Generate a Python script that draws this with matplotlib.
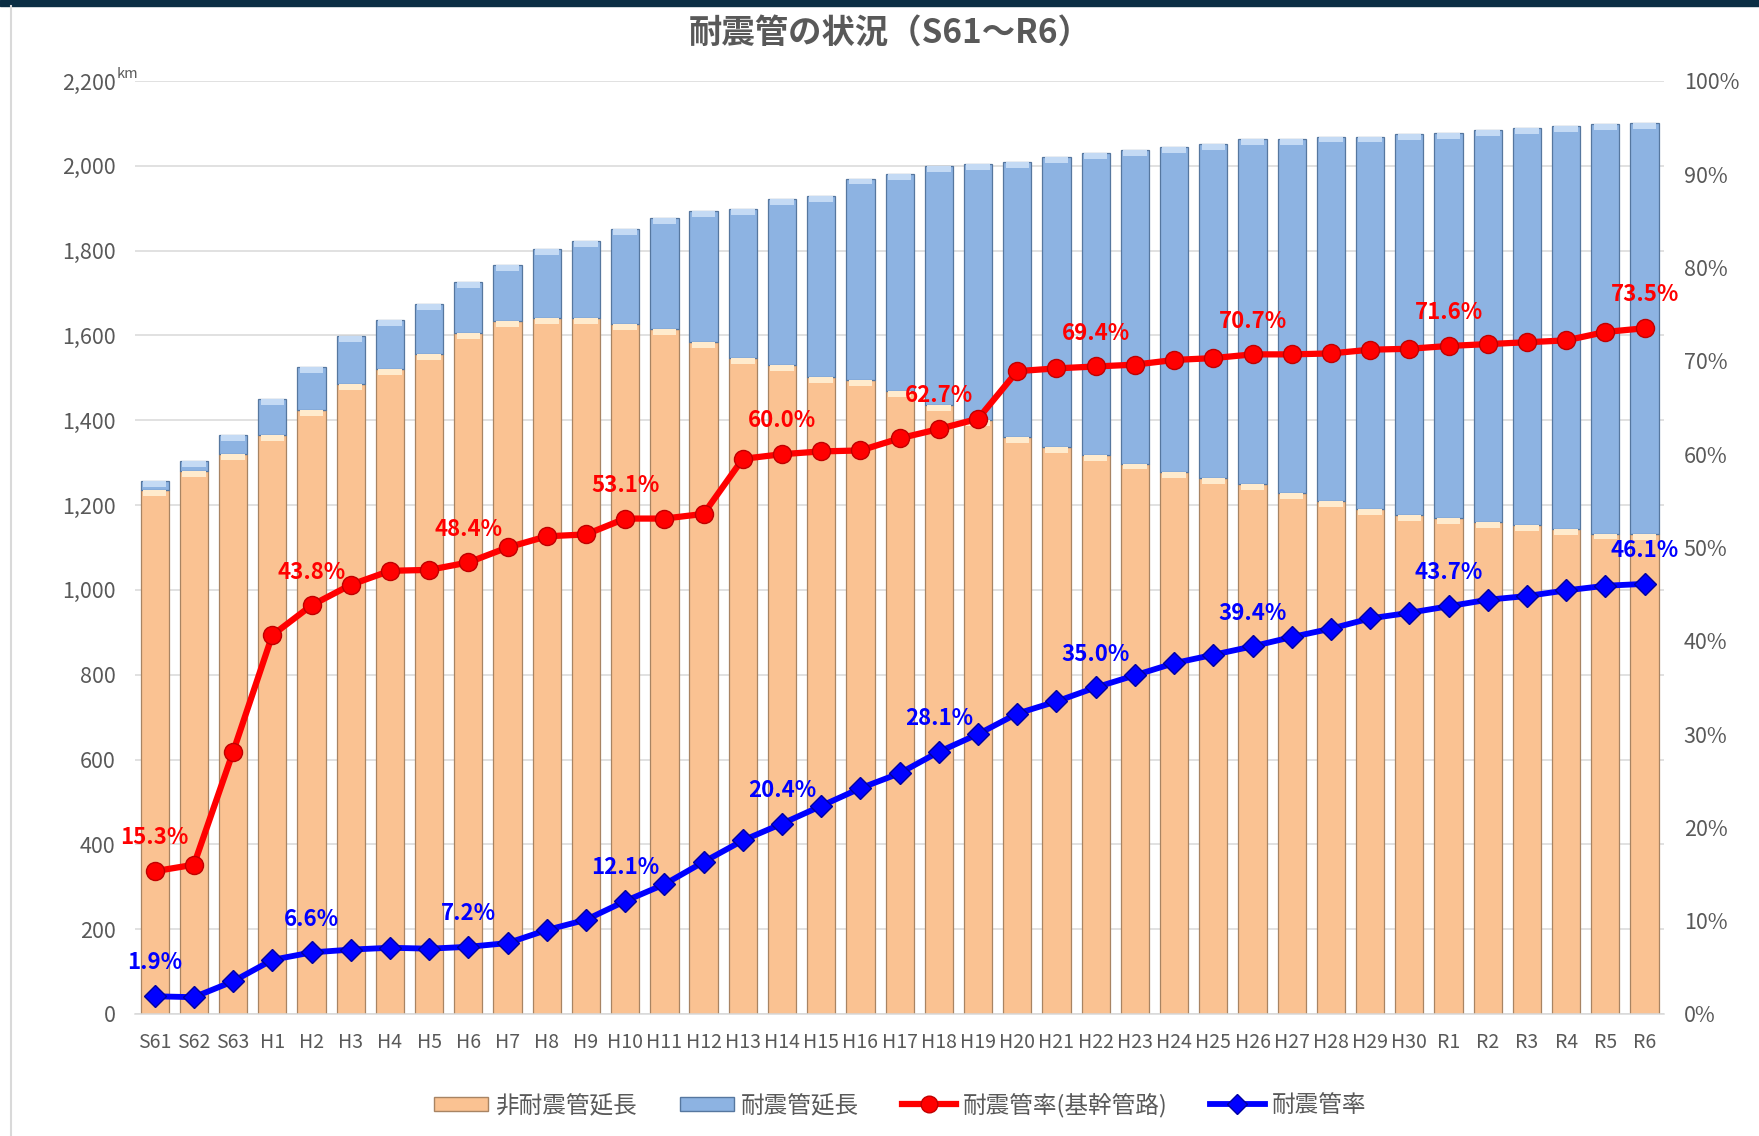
import matplotlib.pyplot as plt
import matplotlib.ticker as ticker
from matplotlib.lines import Line2D
from matplotlib.patches import Patch, Rectangle

plt.rcParams['font.family'] = ['Noto Sans CJK JP', 'DejaVu Sans']

# 年度
years = ['S61', 'S62', 'S63'] + ['H%d' % i for i in range(1, 31)] + ['R%d' % i for i in range(1, 7)]

# 非耐震管延長 (km)
non_seismic = [1235, 1280, 1320,
               1366, 1424, 1486, 1521, 1556, 1606, 1635, 1641, 1641, 1627,
               1615, 1585, 1546, 1530, 1503, 1494, 1470, 1437, 1400, 1361,
               1337, 1318, 1298, 1278, 1263, 1250, 1228, 1209, 1190, 1176,
               1169, 1161, 1153, 1143, 1133, 1131]

# 耐震管延長 (km)
seismic = [22, 24, 45,
           84, 102, 112, 115, 119, 120, 132, 163, 182, 225,
           261, 309, 353, 391, 426, 476, 511, 562, 604, 647,
           683, 713, 739, 767, 788, 813, 835, 860, 879, 899,
           909, 923, 937, 950, 965, 969]

# 耐震管率(基幹管路) (%)
rate_main = [15.3, 16.0, 28.1,
             40.6, 43.8, 46.0, 47.5, 47.6, 48.4, 50.0, 51.2, 51.4, 53.1,
             53.1, 53.6, 59.5, 60.0, 60.3, 60.4, 61.7, 62.7, 63.8, 68.9,
             69.2, 69.4, 69.6, 70.1, 70.3, 70.7, 70.7, 70.8, 71.2, 71.3,
             71.6, 71.8, 72.0, 72.2, 73.1, 73.5]

# 耐震管率 (%)
rate_all = [1.9, 1.8, 3.5,
            5.8, 6.6, 6.9, 7.1, 7.0, 7.2, 7.6, 9.0, 10.1, 12.1,
            13.9, 16.3, 18.6, 20.4, 22.3, 24.2, 25.8, 28.1, 30.0, 32.2,
            33.5, 35.0, 36.3, 37.6, 38.5, 39.4, 40.4, 41.3, 42.4, 43.0,
            43.7, 44.4, 44.8, 45.4, 45.9, 46.1]

# ラベルを付ける年度
label_idx = [0, 4, 8, 12, 16, 20, 24, 28, 33, 38]

gray = '#595959'
orange = '#FAC292'
orange_light = '#FFEBCD'
blue = '#8DB3E2'
blue_light = '#C4DAF4'

fig = plt.figure(figsize=(17.59, 11.36), dpi=100)
fig.add_artist(Rectangle((0, 1 - 6 / 1136), 1, 6 / 1136, transform=fig.transFigure,
                         color='#0B2E44', zorder=0))
fig.add_artist(Line2D([11 / 1759, 11 / 1759], [0, 1 - 6 / 1136], transform=fig.transFigure,
                      color='#D9D9D9', lw=1.5))

ax = fig.add_axes([0.0768, 0.1074, 0.8693, 0.8213])
x = list(range(len(years)))
total = [a + b for a, b in zip(non_seismic, seismic)]
cap = 14

ax.bar(x, non_seismic, width=0.72, color=orange, edgecolor='#A88463', linewidth=0.9, zorder=2)
ax.bar(x, seismic, width=0.72, bottom=non_seismic, color=blue, edgecolor='#56779F',
       linewidth=0.9, zorder=2)
# 上面の明るいベベル
ax.bar(x, [cap] * len(x), width=0.6, bottom=[v - cap for v in non_seismic],
       color=orange_light, linewidth=0, zorder=3)
ax.bar(x, [cap] * len(x), width=0.6, bottom=[v - cap for v in total],
       color=blue_light, linewidth=0, zorder=3)

ax.set_xlim(-0.5, len(years) - 0.5)
ax.set_ylim(0, 2200)
ax.set_yticks(range(0, 2201, 200))
ax.yaxis.set_major_formatter(ticker.StrMethodFormatter('{x:,.0f}'))
ax.set_xticks(x)
ax.set_xticklabels(years)
ax.set_axisbelow(True)
ax.grid(axis='y', color='#D9D9D9', lw=1.1)
for s in ['top', 'left', 'right']:
    ax.spines[s].set_visible(False)
ax.spines['bottom'].set_color('#D9D9D9')
ax.spines['bottom'].set_linewidth(1.1)
ax.tick_params(axis='y', length=0, pad=14, labelsize=15.5, labelcolor=gray)
ax.tick_params(axis='x', length=0, pad=13, labelsize=14, labelcolor=gray)
ax.text(-0.0124, 1.0, 'km', transform=ax.transAxes, ha='left', va='bottom',
        fontsize=10.5, color=gray)

ax2 = ax.twinx()
ax2.set_ylim(0, 100)
ax2.set_yticks(range(0, 101, 10))
ax2.yaxis.set_major_formatter(ticker.FuncFormatter(lambda v, p: '%d%%' % v))
for s in ['top', 'left', 'right', 'bottom']:
    ax2.spines[s].set_visible(False)
ax2.tick_params(axis='y', length=0, pad=14, labelsize=15.5, labelcolor=gray)

ax2.plot(x, rate_main, color='#FF0000', lw=4.5, marker='o', ms=13,
         mfc='#FF0000', mec='#C00000', mew=1, zorder=4)
ax2.plot(x, rate_all, color='#0000FF', lw=4.2, marker='D', ms=11,
         mfc='#0000FF', mec='#0000A0', mew=1, zorder=4)

for i in label_idx:
    ax2.annotate('%.1f%%' % rate_main[i], (x[i], rate_main[i]), xytext=(0, 24),
                 textcoords='offset points', ha='center', va='center',
                 fontsize=16, fontweight='bold', color='#FF0000', zorder=5)
    ax2.annotate('%.1f%%' % rate_all[i], (x[i], rate_all[i]), xytext=(0, 24),
                 textcoords='offset points', ha='center', va='center',
                 fontsize=16, fontweight='bold', color='#0000FF', zorder=5)

fig.text(890 / 1759, 1 - 33 / 1136, '耐震管の状況（S61～R6）', ha='center', va='center',
         fontsize=24, fontweight='bold', color=gray)

handles = [
    Patch(facecolor=orange, edgecolor='#A88463'),
    Patch(facecolor=blue, edgecolor='#56779F'),
    Line2D([], [], color='#FF0000', lw=4.5, marker='o', ms=12, mfc='#FF0000', mec='#C00000'),
    Line2D([], [], color='#0000FF', lw=4.2, marker='D', ms=10, mfc='#0000FF', mec='#0000A0'),
]
labels = ['非耐震管延長', '耐震管延長', '耐震管率(基幹管路)', '耐震管率']
fig.legend(handles, labels, loc='center', bbox_to_anchor=(900 / 1759, 1 - 1105 / 1136),
           ncol=4, frameon=False, fontsize=17, labelcolor=gray, handlelength=2.3,
           handleheight=0.6, handletextpad=0.3, columnspacing=1.8)

fig.savefig('out.png', dpi=100)
